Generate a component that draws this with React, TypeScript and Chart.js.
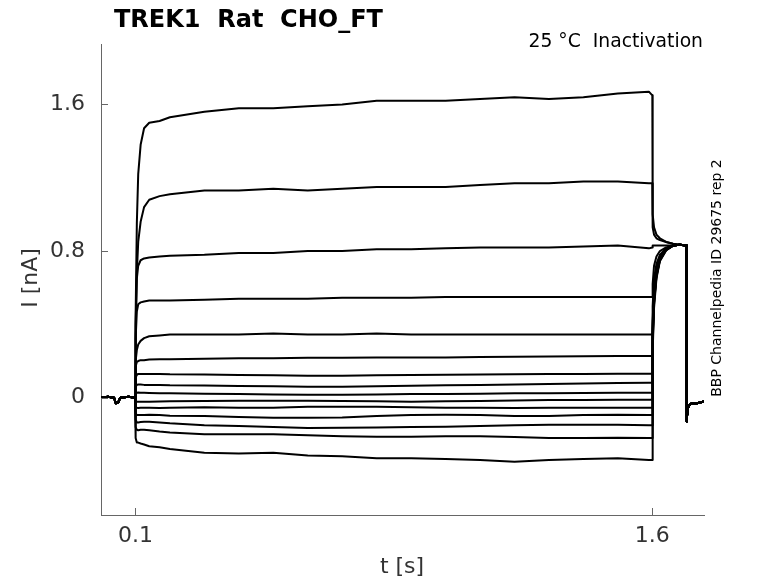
import { useEffect, useRef } from "react";
import { Chart, registerables } from "chart.js";

Chart.register(...registerables);

// holding level before the conditioning step (nA)
const preTimes = [0, 0.02, 0.038, 0.043, 0.05, 0.056, 0.08, 0.099];
const preCurrent = [0, 0.005, 0, -0.03, -0.025, 0, 0.005, 0];

// conditioning step 0.1 s .. 1.6 s, then relaxation onto the test pulse
const sweepTimes = [
  0.1, 0.101, 0.104, 0.108, 0.115, 0.125, 0.14, 0.17, 0.2, 0.3, 0.4, 0.5, 0.6, 0.7, 0.8,
  0.9, 1.0, 1.1, 1.2, 1.3, 1.4, 1.5, 1.59, 1.6, 1.601, 1.605, 1.612, 1.622, 1.64, 1.66,
];

const sweep1 = [0, 0.45, 0.95, 1.22, 1.38, 1.47, 1.5, 1.51, 1.53, 1.56, 1.58, 1.58, 1.59, 1.6, 1.62, 1.62, 1.62, 1.63, 1.64, 1.63, 1.64, 1.66, 1.67, 1.65, 1.0, 0.93, 0.89, 0.87, 0.85, 0.84];
const sweep2 = [0, 0.35, 0.68, 0.85, 0.96, 1.04, 1.08, 1.1, 1.11, 1.13, 1.13, 1.14, 1.13, 1.14, 1.15, 1.15, 1.15, 1.16, 1.17, 1.17, 1.18, 1.18, 1.17, 1.17, 0.93, 0.89, 0.87, 0.86, 0.85, 0.84];
const sweep3 = [0, 0.4, 0.65, 0.72, 0.75, 0.76, 0.765, 0.77, 0.775, 0.78, 0.79, 0.79, 0.8, 0.8, 0.81, 0.81, 0.815, 0.82, 0.82, 0.82, 0.825, 0.83, 0.815, 0.82, 0.83, 0.83, 0.83, 0.83, 0.83, 0.83];
const sweep4 = [0, 0.32, 0.47, 0.51, 0.52, 0.525, 0.53, 0.53, 0.53, 0.535, 0.54, 0.54, 0.54, 0.545, 0.545, 0.545, 0.55, 0.55, 0.55, 0.55, 0.55, 0.55, 0.55, 0.55, 0.62, 0.72, 0.77, 0.8, 0.82, 0.83];
const sweep5 = [0, 0.2, 0.26, 0.29, 0.31, 0.325, 0.335, 0.34, 0.345, 0.345, 0.345, 0.35, 0.345, 0.345, 0.35, 0.345, 0.345, 0.345, 0.345, 0.345, 0.345, 0.345, 0.345, 0.345, 0.5, 0.65, 0.73, 0.78, 0.815, 0.83];
const sweep6 = [0, 0.17, 0.195, 0.2, 0.205, 0.205, 0.208, 0.21, 0.21, 0.212, 0.215, 0.215, 0.218, 0.218, 0.22, 0.22, 0.22, 0.222, 0.224, 0.225, 0.226, 0.228, 0.228, 0.228, 0.42, 0.6, 0.7, 0.77, 0.81, 0.83];
const sweep7 = [0, 0.11, 0.125, 0.13, 0.13, 0.13, 0.13, 0.13, 0.128, 0.126, 0.124, 0.122, 0.12, 0.12, 0.122, 0.124, 0.125, 0.127, 0.128, 0.13, 0.13, 0.131, 0.131, 0.131, 0.4, 0.58, 0.69, 0.765, 0.81, 0.83];
const sweep8 = [0, 0.06, 0.07, 0.072, 0.072, 0.07, 0.07, 0.07, 0.068, 0.066, 0.064, 0.062, 0.06, 0.06, 0.062, 0.065, 0.068, 0.07, 0.072, 0.075, 0.078, 0.08, 0.082, 0.082, 0.38, 0.57, 0.685, 0.762, 0.81, 0.83];
const sweep9 = [0, 0.022, 0.027, 0.028, 0.027, 0.027, 0.026, 0.025, 0.024, 0.022, 0.02, 0.018, 0.016, 0.016, 0.018, 0.02, 0.02, 0.022, 0.024, 0.025, 0.026, 0.027, 0.027, 0.027, 0.36, 0.56, 0.68, 0.76, 0.81, 0.83];
const sweep10 = [0, -0.018, -0.022, -0.022, -0.022, -0.022, -0.022, -0.021, -0.02, -0.018, -0.016, -0.016, -0.016, -0.018, -0.02, -0.022, -0.02, -0.018, -0.015, -0.013, -0.012, -0.011, -0.011, -0.011, 0.35, 0.55, 0.68, 0.76, 0.81, 0.83];
const sweep11 = [0, -0.05, -0.055, -0.056, -0.055, -0.055, -0.055, -0.056, -0.055, -0.052, -0.055, -0.055, -0.05, -0.049, -0.05, -0.052, -0.055, -0.055, -0.056, -0.055, -0.055, -0.055, -0.055, -0.055, 0.34, 0.54, 0.675, 0.758, 0.808, 0.83];
const sweep12 = [0, -0.085, -0.095, -0.095, -0.095, -0.094, -0.093, -0.095, -0.098, -0.1, -0.105, -0.11, -0.11, -0.108, -0.1, -0.095, -0.093, -0.095, -0.1, -0.1, -0.095, -0.093, -0.095, -0.095, 0.33, 0.53, 0.67, 0.755, 0.807, 0.83];
const sweep13 = [0, -0.12, -0.135, -0.135, -0.133, -0.131, -0.131, -0.135, -0.14, -0.15, -0.155, -0.16, -0.165, -0.164, -0.162, -0.16, -0.158, -0.155, -0.15, -0.148, -0.147, -0.147, -0.15, -0.15, 0.31, 0.52, 0.665, 0.752, 0.806, 0.83];
const sweep14 = [0, -0.16, -0.175, -0.178, -0.175, -0.175, -0.178, -0.185, -0.19, -0.2, -0.2, -0.2, -0.205, -0.21, -0.213, -0.213, -0.21, -0.21, -0.215, -0.22, -0.22, -0.218, -0.22, -0.22, 0.29, 0.51, 0.66, 0.75, 0.805, 0.83];
const sweep15 = [0, -0.22, -0.245, -0.245, -0.25, -0.255, -0.265, -0.27, -0.28, -0.3, -0.305, -0.3, -0.315, -0.32, -0.33, -0.33, -0.335, -0.34, -0.35, -0.34, -0.335, -0.33, -0.34, -0.34, 0.25, 0.49, 0.65, 0.745, 0.803, 0.83];

const sweeps = [sweep1, sweep2, sweep3, sweep4, sweep5, sweep6, sweep7, sweep8, sweep9, sweep10, sweep11, sweep12, sweep13, sweep14, sweep15];

// test pulse end and return to holding, common to every sweep
const tailTimes = [1.68, 1.699, 1.7, 1.701, 1.703, 1.707, 1.715, 1.73, 1.75];
const tailCurrent = [0.835, 0.83, -0.13, -0.09, -0.06, -0.04, -0.03, -0.03, -0.02];

const xTickValues = [0.1, 1.6];
const yTickValues = [0, 0.8, 1.6];

const FONT = '"DejaVu Sans", sans-serif';

const textPlugin = {
  id: "figureText",
  afterDraw(chart: Chart) {
    const { ctx, chartArea, scales } = chart;
    ctx.save();

    // inward tick marks
    ctx.strokeStyle = "#666";
    ctx.lineWidth = 1;
    ctx.beginPath();
    for (const v of xTickValues) {
      const px = Math.round(scales.x.getPixelForValue(v)) + 0.5;
      ctx.moveTo(px, chartArea.bottom);
      ctx.lineTo(px, chartArea.bottom - 7);
    }
    for (const v of yTickValues) {
      const py = Math.round(scales.y.getPixelForValue(v)) + 0.5;
      ctx.moveTo(chartArea.left, py);
      ctx.lineTo(chartArea.left + 7, py);
    }
    ctx.stroke();

    ctx.fillStyle = "#000";
    ctx.font = `bold 24px ${FONT}`;
    ctx.textAlign = "left";
    ctx.textBaseline = "alphabetic";
    ctx.fillText("TREK1  Rat  CHO_FT", 114, 27);

    ctx.font = `18.75px ${FONT}`;
    ctx.textAlign = "right";
    ctx.fillText("25 °C  Inactivation", 703, 47);

    ctx.fillStyle = "#333";
    ctx.font = `22px ${FONT}`;
    ctx.textAlign = "center";
    ctx.textBaseline = "middle";
    ctx.fillText("t [s]", 402, 567);

    ctx.save();
    ctx.translate(31, 278);
    ctx.rotate(-Math.PI / 2);
    ctx.fillText("I [nA]", 0, 0);
    ctx.restore();

    ctx.fillStyle = "#000";
    ctx.save();
    ctx.translate(721, 278);
    ctx.rotate(-Math.PI / 2);
    ctx.font = `14px ${FONT}`;
    ctx.textAlign = "center";
    ctx.textBaseline = "alphabetic";
    ctx.fillText("BBP Channelpedia ID 29675 rep 2", 0, 0);
    ctx.restore();

    ctx.restore();
  },
};

export default function App() {
  const canvasRef = useRef<HTMLCanvasElement>(null);
  const chartRef = useRef<Chart | null>(null);

  useEffect(() => {
    if (!canvasRef.current) return;
    if (chartRef.current) chartRef.current.destroy();

    const datasets = sweeps.map((sweep) => ({
      data: [
        ...preTimes.map((t, i) => ({ x: t, y: preCurrent[i] })),
        ...sweepTimes.map((t, i) => ({ x: t, y: sweep[i] })),
        ...tailTimes.map((t, i) => ({ x: t, y: tailCurrent[i] })),
      ],
      showLine: true,
      borderColor: "#000",
      borderWidth: 2,
      borderJoinStyle: "round" as const,
      pointRadius: 0,
      tension: 0,
    }));

    chartRef.current = new Chart(canvasRef.current, {
      type: "scatter",
      data: { datasets },
      options: {
        animation: false,
        responsive: false,
        events: [],
        layout: { padding: { left: 0, top: 44, right: 74, bottom: 0 } },
        plugins: { legend: { display: false }, tooltip: { enabled: false } },
        scales: {
          x: {
            type: "linear",
            min: 0,
            max: 1.75,
            afterBuildTicks: (scale) => {
              scale.ticks = xTickValues.map((v) => ({ value: v }));
            },
            afterFit: (scale) => {
              scale.height = 68;
            },
            ticks: {
              color: "#333",
              font: { family: FONT, size: 22 },
              padding: 8,
              maxRotation: 0,
              callback: (v) => String(v),
            },
            grid: { display: false, drawTicks: false },
            border: { display: true, color: "#666", width: 1 },
          },
          y: {
            min: -0.64,
            max: 1.93,
            afterBuildTicks: (scale) => {
              scale.ticks = yTickValues.map((v) => ({ value: v }));
            },
            afterFit: (scale) => {
              scale.width = 101;
            },
            ticks: {
              color: "#333",
              font: { family: FONT, size: 22 },
              padding: 16,
              callback: (v) => String(v),
            },
            grid: { display: false, drawTicks: false },
            border: { display: true, color: "#666", width: 1 },
          },
        },
      },
      plugins: [textPlugin],
    });

    return () => {
      if (chartRef.current) {
        chartRef.current.destroy();
        chartRef.current = null;
      }
    };
  }, []);

  return (
    <div style={{ position: "absolute", left: 0, top: 0, width: 778, height: 583, background: "#fff" }}>
      <canvas ref={canvasRef} width={778} height={583} style={{ display: "block" }}></canvas>
    </div>
  );
}
